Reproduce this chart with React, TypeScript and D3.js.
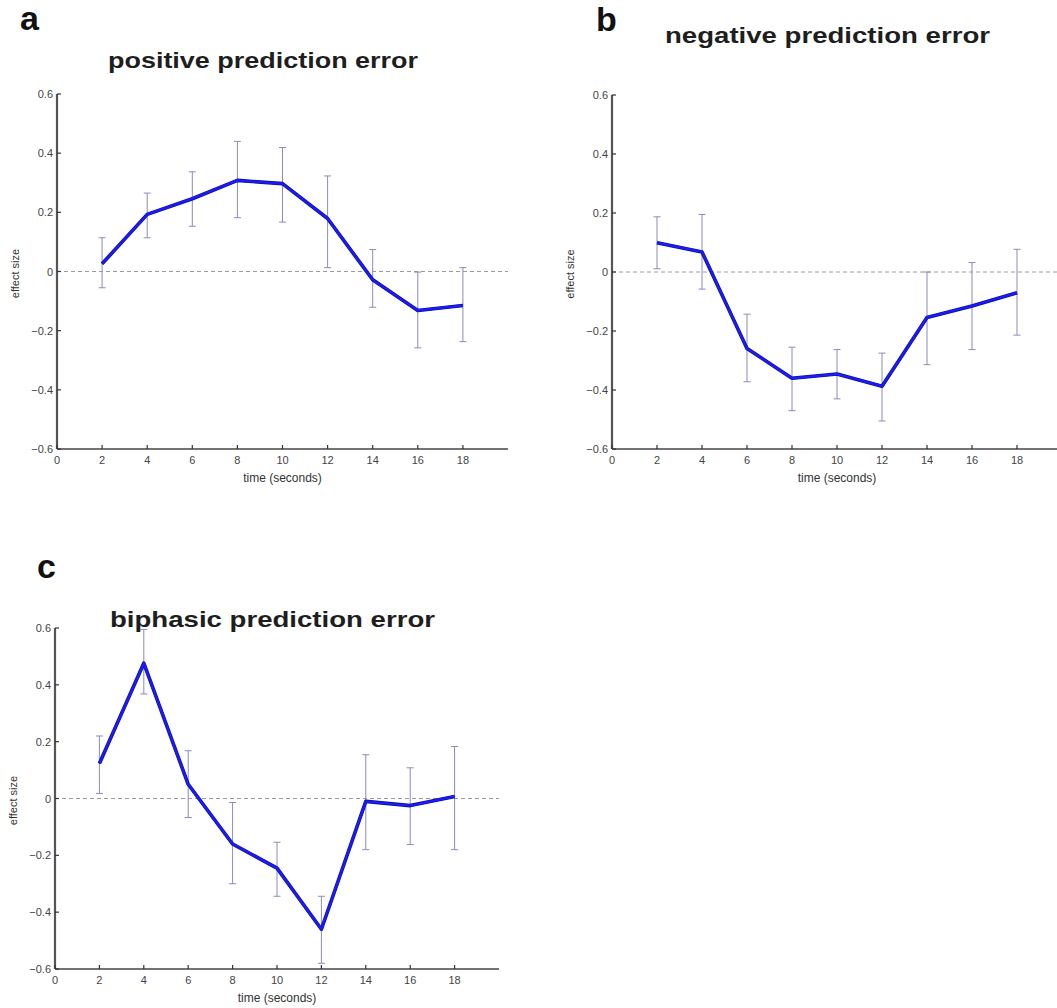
import React from "react";
import * as d3 from "d3";

// Time points (seconds) shared by all three panels
const timePoints = [2, 4, 6, 8, 10, 12, 14, 16, 18];
const xTicks = [0, 2, 4, 6, 8, 10, 12, 14, 16, 18];
const yTicks = [-0.6, -0.4, -0.2, 0, 0.2, 0.4, 0.6];

// a: positive prediction error
const positiveMean = [0.026, 0.193, 0.246, 0.308, 0.297, 0.179, -0.028, -0.132, -0.115];
const positiveUpper = [0.114, 0.265, 0.337, 0.44, 0.419, 0.323, 0.074, -0.002, 0.013];
const positiveLower = [-0.055, 0.114, 0.153, 0.182, 0.167, 0.013, -0.121, -0.258, -0.237];

// b: negative prediction error
const negativeMean = [0.099, 0.068, -0.259, -0.36, -0.346, -0.387, -0.154, -0.115, -0.07];
const negativeUpper = [0.187, 0.195, -0.143, -0.255, -0.263, -0.275, 0.0, 0.032, 0.077];
const negativeLower = [0.011, -0.058, -0.372, -0.47, -0.43, -0.505, -0.314, -0.263, -0.214];

// c: biphasic prediction error
const biphasicMean = [0.123, 0.476, 0.05, -0.16, -0.245, -0.46, -0.01, -0.025, 0.007];
const biphasicUpper = [0.22, 0.595, 0.168, -0.014, -0.154, -0.344, 0.154, 0.108, 0.183];
const biphasicLower = [0.018, 0.368, -0.067, -0.3, -0.344, -0.58, -0.18, -0.162, -0.18];

const FONT = "'Liberation Sans', Arial, sans-serif";

type PanelProps = {
  letter: string;
  title: string;
  mean: number[];
  upper: number[];
  lower: number[];
  x0: number;
  x1: number;
  yTop: number;
  yBot: number;
  letterPos: [number, number];
  titlePos: [number, number, number];
};

function Panel(p: PanelProps) {
  const x = d3.scaleLinear().domain([0, 20]).range([p.x0, p.x1]);
  const y = d3.scaleLinear().domain([-0.6, 0.6]).range([p.yBot, p.yTop]);
  const line = d3
    .line<number>()
    .x((_, i) => x(timePoints[i]))
    .y((v) => y(v));
  const cap = 3.5;
  const fmt = (v: number) => (Math.abs(v) < 1e-9 ? "0" : d3.format(".1f")(v));
  return (
    <g>
      <text x={p.letterPos[0]} y={p.letterPos[1]} fontFamily={FONT} fontWeight="bold" fontSize={34} fill="#111">
        {p.letter}
      </text>
      <text
        x={p.titlePos[0]}
        y={p.titlePos[1]}
        fontFamily={FONT}
        fontWeight="bold"
        fontSize={22}
        fill="#1e1e1e"
        textLength={p.titlePos[2]}
        lengthAdjust="spacingAndGlyphs"
      >
        {p.title}
      </text>
      {/* zero reference */}
      <line x1={p.x0} x2={p.x1} y1={y(0)} y2={y(0)} stroke="#9a9a9a" strokeWidth={1} strokeDasharray="4,3" />
      {/* error bars */}
      {timePoints.map((t, i) => (
        <g key={t} stroke="#8a8abf" strokeWidth={1}>
          <line x1={x(t)} x2={x(t)} y1={y(p.upper[i])} y2={y(p.lower[i])} />
          <line x1={x(t) - cap} x2={x(t) + cap} y1={y(p.upper[i])} y2={y(p.upper[i])} />
          <line x1={x(t) - cap} x2={x(t) + cap} y1={y(p.lower[i])} y2={y(p.lower[i])} />
        </g>
      ))}
      {/* mean time course */}
      <path d={line(p.mean) || ""} fill="none" stroke="#10107a" strokeWidth={3.6} strokeLinejoin="round" />
      <path d={line(p.mean) || ""} fill="none" stroke="#1a1aff" strokeWidth={2.4} strokeLinejoin="round" />
      {/* axes */}
      <line x1={p.x0} x2={p.x1} y1={p.yBot} y2={p.yBot} stroke="#444" strokeWidth={1.5} />
      <line x1={p.x0} x2={p.x0} y1={p.yTop} y2={p.yBot} stroke="#555" strokeWidth={2.2} />
      {yTicks.map((v) => (
        <g key={v}>
          <line x1={p.x0} x2={p.x0 + 4} y1={y(v)} y2={y(v)} stroke="#333" strokeWidth={1.2} />
          <text x={p.x0 - 4} y={y(v) + 4} textAnchor="end" fontFamily={FONT} fontSize={11} fill="#444">
            {fmt(v)}
          </text>
        </g>
      ))}
      {xTicks.map((t) => (
        <g key={t}>
          <line x1={x(t)} x2={x(t)} y1={p.yBot} y2={p.yBot - 4} stroke="#333" strokeWidth={1.2} />
          <text x={x(t)} y={p.yBot + 15} textAnchor="middle" fontFamily={FONT} fontSize={11} fill="#444">
            {t}
          </text>
        </g>
      ))}
      <text
        x={x(10)}
        y={p.yBot + 33}
        textAnchor="middle"
        fontFamily={FONT}
        fontSize={12}
        fill="#333"
      >
        time (seconds)
      </text>
      <text
        transform={`translate(${p.x0 - 38},${y(0) + 2}) rotate(-90)`}
        textAnchor="middle"
        fontFamily={FONT}
        fontSize={11}
        fill="#333"
      >
        effect size
      </text>
    </g>
  );
}

export default function App() {
  return (
    <svg
      width={1057}
      height={1008}
      style={{ position: "absolute", left: 0, top: 0, background: "#fff" }}
    >
      <Panel
        letter="a"
        title="positive prediction error"
        mean={positiveMean}
        upper={positiveUpper}
        lower={positiveLower}
        x0={57}
        x1={508}
        yTop={94}
        yBot={449}
        letterPos={[20, 30]}
        titlePos={[108, 68, 310]}
      />
      <Panel
        letter="b"
        title="negative prediction error"
        mean={negativeMean}
        upper={negativeUpper}
        lower={negativeLower}
        x0={612}
        x1={1062}
        yTop={95}
        yBot={449}
        letterPos={[596, 31]}
        titlePos={[665, 43, 325]}
      />
      <Panel
        letter="c"
        title="biphasic prediction error"
        mean={biphasicMean}
        upper={biphasicUpper}
        lower={biphasicLower}
        x0={55}
        x1={499}
        yTop={628}
        yBot={969}
        letterPos={[37, 578]}
        titlePos={[110, 627, 325]}
      />
    </svg>
  );
}
